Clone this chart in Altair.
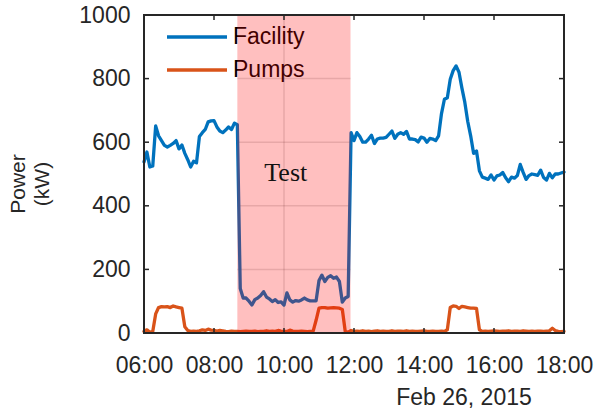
import altair as alt
import pandas as pd

# Readings every 5 minutes from 06:00 to 18:00 on Feb 26, 2015 (kW)
step_minutes = 5
facility_kw = [
    538, 569, 522, 525, 651, 620, 605, 590, 585, 590,
    596, 605, 579, 591, 565, 545, 522, 540, 535, 618,
    630, 640, 664, 667, 668, 648, 635, 630, 638, 648,
    640, 660, 655, 140, 110, 110, 100, 88, 105, 110,
    118, 130, 113, 107, 99, 105, 96, 98, 88, 126,
    104, 97, 102, 100, 104, 110, 104, 101, 101, 101,
    165, 182, 162, 175, 180, 172, 176, 162, 97, 110,
    115, 630, 605, 630, 618, 600, 600, 610, 622, 596,
    610, 613, 613, 615, 625, 635, 612, 625, 630, 625,
    634, 610, 610, 608, 601, 616, 613, 600, 612, 610,
    605, 620, 690, 735, 740, 798, 825, 840, 820, 770,
    725, 665, 620, 565, 572, 510, 490, 487, 483, 497,
    481, 494, 497, 505, 488, 476, 490, 487, 495, 530,
    505, 483, 495, 500, 498, 496, 512, 489, 481, 502,
    488, 500, 500, 503, 506,
]
pumps_kw = (
    [5, 10, 2, 5, 60]
    + [80, 83, 82, 83, 80, 85, 82, 80, 78, 20]
    + [8, 5, 6, 5, 7, 10, 8, 12, 9, 8, 6, 8, 7, 5, 4, 6, 5, 5, 4, 5,
       6, 5, 5, 6, 4, 5, 5, 7, 5, 6, 5, 8, 6, 5, 5, 9, 6, 5, 5, 6,
       5, 4, 5, 6]
    + [40, 78, 80, 80, 78, 79, 80, 79, 78, 74, 5]
    + [2, 8, 5, 6, 5, 7, 5, 6, 4, 6, 7, 5, 6, 5, 5, 7, 5, 6, 6, 5,
       7, 5, 6, 5, 5, 6, 7, 5, 5, 6, 5, 5, 6, 5]
    + [10, 80, 85, 84, 77, 84, 82, 80, 78, 78, 77, 10]
    + [5, 6, 5, 6, 7, 6, 5, 6, 6, 7, 5, 6, 6, 5, 7, 6, 5, 6, 5, 6,
       6, 5, 6, 7, 15, 8, 5, 4, 5]
)

series_names = ["Facility", "Pumps"]
series_colors = ["#0072BD", "#D95319"]
hour_ticks = [6, 8, 10, 12, 14, 16, 18]
power_ticks = [0, 200, 400, 600, 800, 1000]
test_window = [8.667, 11.9]          # start / end of the test, in hours
test_label = "Test"
test_label_at = [10.05, 503]         # hour, kW
date_label = "Feb 26, 2015"
y_title = ["Power", "(kW)"]

n = len(facility_kw)
hours = [6 + i * step_minutes / 60 for i in range(n)]
df = pd.DataFrame({
    "hour": hours + hours,
    "power": facility_kw + pumps_kw,
    "series": ["Facility"] * n + ["Pumps"] * len(pumps_kw),
})
one = pd.DataFrame({"k": [0]})   # single row for annotation marks

W, H = 420, 318
FONT = "Liberation Sans"
INK = "#262626"

x_scale = alt.Scale(domain=[6, 18], nice=False, zero=False)
y_scale = alt.Scale(domain=[0, 1000], nice=False)

x_enc = alt.X(
    "hour:Q", scale=x_scale,
    axis=alt.Axis(values=hour_ticks, title=None, grid=False, ticks=False, domain=False,
                  labelExpr="(datum.value < 10 ? '0' : '') + datum.value + ':00'",
                  labelFont=FONT, labelFontSize=23, labelColor=INK, labelPadding=21,
                  labelFlush=False, labelOverlap=False),
)
y_enc = alt.Y(
    "power:Q", scale=y_scale,
    axis=alt.Axis(values=power_ticks, format="d", title=None, grid=False, ticks=False, domain=False,
                  labelFont=FONT, labelFontSize=23, labelColor=INK, labelPadding=14),
)

lines = alt.Chart(df).mark_line(strokeWidth=3.3, strokeJoin="round", strokeCap="round").encode(
    x=x_enc,
    y=y_enc,
    color=alt.Color("series:N", scale=alt.Scale(domain=series_names, range=series_colors), legend=None),
    order=alt.Order("hour:Q"),
)

# grid lines, only visible across the test window
grid_df = pd.DataFrame({"p": power_ticks[1:-1]})
grid_h = alt.Chart(grid_df).mark_rule(color=INK, opacity=0.15, strokeWidth=1.5).encode(
    y=alt.Y("p:Q", scale=y_scale),
    x=alt.datum(test_window[0]),
    x2=alt.datum(test_window[1]),
)
grid_v_df = pd.DataFrame({"t": [t for t in hour_ticks if test_window[0] < t < test_window[1]]})
grid_v = alt.Chart(grid_v_df).mark_rule(color=INK, opacity=0.15, strokeWidth=1.5).encode(
    x=alt.X("t:Q", scale=x_scale),
    y=alt.value(0),
    y2=alt.value(H),
)

# legend drawn inside the axes
legend_layers = []
for k, (name, col) in enumerate(zip(series_names, series_colors)):
    ly = 22 + 33 * k
    legend_layers.append(
        alt.Chart(one).mark_rule(color=col, strokeWidth=3.3).encode(
            x=alt.value(23), x2=alt.value(83), y=alt.value(ly)
        )
    )
    legend_layers.append(
        alt.Chart(one).mark_text(text=name, font=FONT, fontSize=23, color="#000000",
                                 align="left", baseline="middle").encode(
            x=alt.value(89), y=alt.value(ly)
        )
    )

# shaded test window drawn over the traces
shade = alt.Chart(one).mark_rect(color="#FF0000", opacity=0.25).encode(
    x=alt.datum(test_window[0]),
    x2=alt.datum(test_window[1]),
    y=alt.value(0),
    y2=alt.value(H),
)
test_text = alt.Chart(one).mark_text(text=test_label, font="Liberation Serif", fontSize=26,
                                     color="#111111", align="center", baseline="middle").encode(
    x=alt.datum(test_label_at[0]),
    y=alt.datum(test_label_at[1]),
)

# inward ticks on all four sides and the box
xt = pd.DataFrame({"t": hour_ticks})
yt = pd.DataFrame({"p": power_ticks})
tick_len = 5
ticks = [
    alt.Chart(xt).mark_rule(color=INK, strokeWidth=1.5).encode(
        x=alt.X("t:Q", scale=x_scale), y=alt.value(H), y2=alt.value(H - tick_len)),
    alt.Chart(xt).mark_rule(color=INK, strokeWidth=1.5).encode(
        x=alt.X("t:Q", scale=x_scale), y=alt.value(0), y2=alt.value(tick_len)),
    alt.Chart(yt).mark_rule(color=INK, strokeWidth=1.5).encode(
        y=alt.Y("p:Q", scale=y_scale), x=alt.value(0), x2=alt.value(tick_len)),
    alt.Chart(yt).mark_rule(color=INK, strokeWidth=1.5).encode(
        y=alt.Y("p:Q", scale=y_scale), x=alt.value(W), x2=alt.value(W - tick_len)),
]
frame = alt.Chart(one).mark_rect(filled=False, stroke=INK, strokeWidth=2).encode(
    x=alt.value(0), x2=alt.value(W), y=alt.value(0), y2=alt.value(H)
)

date_text = alt.Chart(one).mark_text(text=date_label, font=FONT, fontSize=23, color=INK,
                                     align="center", baseline="middle").encode(
    x=alt.value(320), y=alt.value(383)
)
title_layers = [
    alt.Chart(one).mark_text(text=y_title[0], font=FONT, fontSize=21, color=INK, angle=270,
                             align="center", baseline="middle").encode(
        x=alt.value(-125), y=alt.value(169)),
    alt.Chart(one).mark_text(text=y_title[1], font=FONT, fontSize=21, color=INK, angle=270,
                             align="center", baseline="middle").encode(
        x=alt.value(-101), y=alt.value(169)),
]

chart = alt.layer(
    grid_h, grid_v, lines, *legend_layers, shade, test_text, *ticks, frame, date_text, *title_layers
).properties(
    width=W, height=H,
    autosize=alt.AutoSizeParams(type="none"),
    padding={"left": 144, "top": 15, "right": 32, "bottom": 77},
    background="white",
).configure_view(stroke=None)

chart.save("out.html", embed_options={"renderer": "svg", "actions": False})
